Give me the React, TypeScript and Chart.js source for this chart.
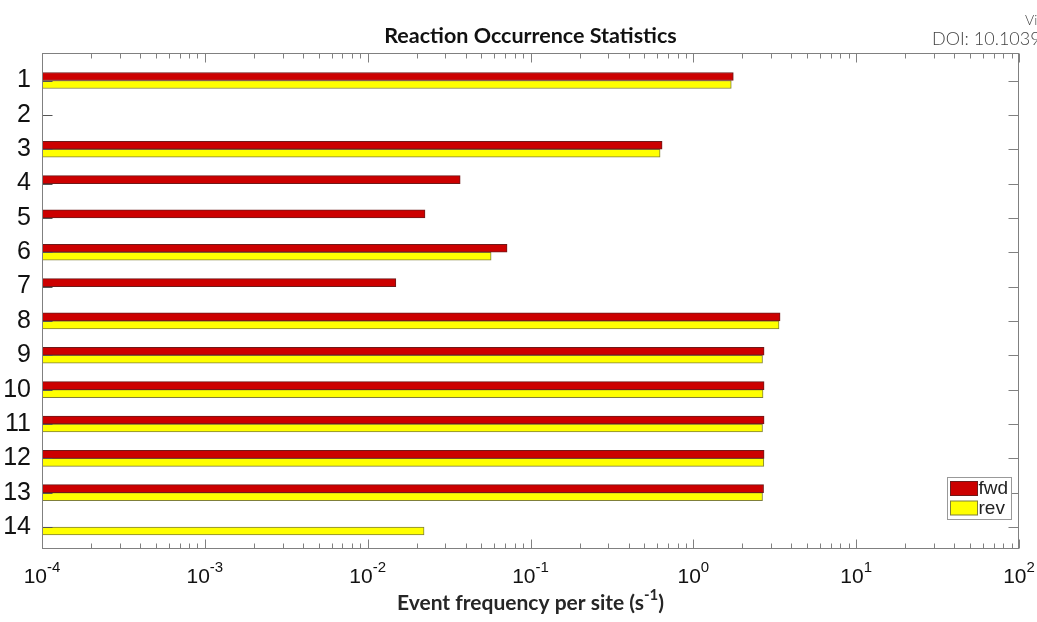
import React, { useEffect, useRef } from 'react';
import { Chart, registerables } from 'chart.js';

Chart.register(...registerables);

const categories = ['1', '2', '3', '4', '5', '6', '7', '8', '9', '10', '11', '12', '13', '14'];
const seriesLabels = ['fwd', 'rev'];
const fwdValues: (number | null)[] = [1.76, null, 0.643, 0.037, 0.0225, 0.0718, 0.0149, 3.41, 2.72, 2.72, 2.72, 2.72, 2.7, null];
const revValues: (number | null)[] = [1.71, null, 0.625, null, null, 0.0573, null, 3.36, 2.66, 2.68, 2.66, 2.71, 2.66, 0.0222];
const xTickExponents = [-4, -3, -2, -1, 0, 1, 2];
const titleText = 'Reaction Occurrence Statistics';
const xTitleMain = 'Event frequency per site (s';
const xTitleSup = '-1';
const xTitleEnd = ')';
const watermarkTop = 'View Article Online';
const watermarkDoi = 'DOI: 10.1039/C5CP';

const fwdColor = '#CC0000';
const fwdBorder = '#6E1A1A';
const revColor = '#FFFF00';
const revBorder = '#7F7F3A';
const axisColor = '#808080';
const NARROW = "'Liberation Sans Narrow', 'Liberation Sans', Arial, sans-serif";
const BOLD = "Lato, 'Open Sans', sans-serif";

const decoPlugin = {
  id: 'deco',
  afterDraw(chart: any) {
    const { ctx, chartArea } = chart;
    const xs = chart.scales.x;
    const ys = chart.scales.y;
    const L = Math.round(chartArea.left) + 0.5;
    const R = Math.round(chartArea.right) - 0.5;
    const T = Math.round(chartArea.top) + 0.5;
    const B = Math.round(chartArea.bottom) - 0.5;
    ctx.save();

    // x ticks (top and bottom, inside)
    ctx.strokeStyle = axisColor;
    ctx.lineWidth = 1;
    ctx.beginPath();
    const lo = xTickExponents[0];
    const hi = xTickExponents[xTickExponents.length - 1];
    for (let d = lo; d <= hi; d++) {
      for (let m = 1; m <= 9; m++) {
        if (d === hi && m > 1) break;
        const v = m * Math.pow(10, d);
        const px = Math.round(xs.getPixelForValue(v)) + 0.5;
        const len = m === 1 ? 9 : 5;
        ctx.moveTo(px, B);
        ctx.lineTo(px, B - len);
        ctx.moveTo(px, T);
        ctx.lineTo(px, T + len);
      }
    }
    ctx.stroke();

    // y ticks
    ctx.beginPath();
    categories.forEach((_, i) => {
      const py = Math.round(ys.getPixelForValue(i + 1)) + 0.5;
      ctx.moveTo(R, py);
      ctx.lineTo(R - 10, py);
    });
    ctx.stroke();
    ctx.strokeStyle = '#555555';
    ctx.beginPath();
    categories.forEach((_, i) => {
      const py = Math.round(ys.getPixelForValue(i + 1)) + 0.5;
      ctx.moveTo(L, py);
      ctx.lineTo(L + 10, py);
    });
    ctx.stroke();

    // box
    ctx.strokeStyle = axisColor;
    ctx.strokeRect(L, T, R - L, B - T);

    // x tick labels
    ctx.fillStyle = '#111111';
    ctx.textBaseline = 'alphabetic';
    ctx.textAlign = 'left';
    xTickExponents.forEach((e) => {
      const px = xs.getPixelForValue(Math.pow(10, e));
      ctx.font = `21px ${NARROW}`;
      const wb = ctx.measureText('10').width;
      ctx.font = `15px ${NARROW}`;
      const sup = String(e);
      const ws = ctx.measureText(sup).width;
      const start = px - (wb + ws) / 2;
      ctx.font = `21px ${NARROW}`;
      ctx.fillText('10', start, 583);
      ctx.font = `15px ${NARROW}`;
      ctx.fillText(sup, start + wb, 572);
    });

    // x axis title
    ctx.fillStyle = '#262626';
    ctx.font = `bold 21px ${BOLD}`;
    const w1 = ctx.measureText(xTitleMain).width;
    const w3 = ctx.measureText(xTitleEnd).width;
    ctx.font = `bold 15px ${BOLD}`;
    const w2 = ctx.measureText(xTitleSup).width;
    const cx = (chartArea.left + chartArea.right) / 2;
    const sx = cx - (w1 + w2 + w3) / 2;
    ctx.font = `bold 21px ${BOLD}`;
    ctx.fillText(xTitleMain, sx, 610);
    ctx.font = `bold 15px ${BOLD}`;
    ctx.fillText(xTitleSup, sx + w1, 600);
    ctx.font = `bold 21px ${BOLD}`;
    ctx.fillText(xTitleEnd, sx + w1 + w2, 610);

    // chart title
    ctx.fillStyle = '#111111';
    ctx.font = `bold 21.5px ${BOLD}`;
    ctx.textAlign = 'center';
    ctx.fillText(titleText, cx, 43);

    // watermark
    ctx.textAlign = 'left';
    ctx.fillStyle = '#444444';
    ctx.font = `300 14px Lato, 'Open Sans', sans-serif`;
    ctx.fillText(watermarkTop, 1025, 25);
    ctx.font = `300 18px Lato, 'Open Sans', sans-serif`;
    ctx.fillText(watermarkDoi, 932, 45);

    // legend
    const lx = 947.5, ly = 477.5, lw = 64, lh = 42;
    ctx.fillStyle = '#ffffff';
    ctx.fillRect(lx, ly, lw, lh);
    ctx.strokeStyle = '#999999';
    ctx.strokeRect(lx, ly, lw, lh);
    const ds = chart.data.datasets;
    ds.forEach((d: any, i: number) => {
      const yy = ly + 4 + i * 19.5;
      ctx.fillStyle = d.backgroundColor;
      ctx.fillRect(lx + 3, yy, 27, 14);
      ctx.strokeStyle = d.borderColor;
      ctx.strokeRect(lx + 3, yy, 27, 14);
      ctx.fillStyle = '#222222';
      ctx.font = `19px ${NARROW}`;
      ctx.textBaseline = 'middle';
      ctx.fillText(seriesLabels[i], lx + 31, yy + 7.5);
      ctx.textBaseline = 'alphabetic';
    });

    ctx.restore();
  },
};

export default function App() {
  const ref = useRef<HTMLCanvasElement | null>(null);

  useEffect(() => {
    if (!ref.current) return;
    const toPoints = (vals: (number | null)[]) => vals.map((v, i) => ({ x: v, y: i + 1 }));
    const chart = new Chart(ref.current, {
      type: 'bar',
      data: {
        datasets: [
          {
            label: seriesLabels[0],
            data: toPoints(fwdValues) as any,
            backgroundColor: fwdColor,
            borderColor: fwdBorder,
            borderWidth: 1,
            borderSkipped: false,
            barThickness: 8,
          },
          {
            label: seriesLabels[1],
            data: toPoints(revValues) as any,
            backgroundColor: revColor,
            borderColor: revBorder,
            borderWidth: 1,
            borderSkipped: false,
            barThickness: 8,
          },
        ],
      },
      options: {
        indexAxis: 'y',
        responsive: false,
        animation: false,
        devicePixelRatio: 1,
        layout: { padding: { left: 0, top: 52.7, right: 18, bottom: 73 } },
        plugins: { legend: { display: false }, title: { display: false }, tooltip: { enabled: false } },
        scales: {
          x: {
            type: 'logarithmic',
            min: 1e-4,
            max: 1e2,
            display: false,
          },
          y: {
            type: 'linear',
            reverse: true,
            offset: false,
            min: 0.19,
            max: 14.64,
            grid: { display: false, drawTicks: false, offset: false },
            border: { display: false },
            afterBuildTicks: (scale: any) => {
              scale.ticks = categories.map((_, i) => ({ value: i + 1 }));
            },
            afterFit: (scale: any) => {
              scale.width = 42;
            },
            ticks: {
              padding: 11,
              color: '#111111',
              font: { family: NARROW, size: 25 },
              callback: (value: any) => categories[Number(value) - 1] ?? '',
            },
          },
        },
      },
      plugins: [decoPlugin],
    } as any);
    return () => chart.destroy();
  }, []);

  return (
    <div style={{ position: 'absolute', left: 0, top: 0, width: 1037, height: 622, background: '#ffffff' }}>
      <canvas ref={ref} width={1037} height={622} style={{ display: 'block', width: 1037, height: 622 }} />
    </div>
  );
}
